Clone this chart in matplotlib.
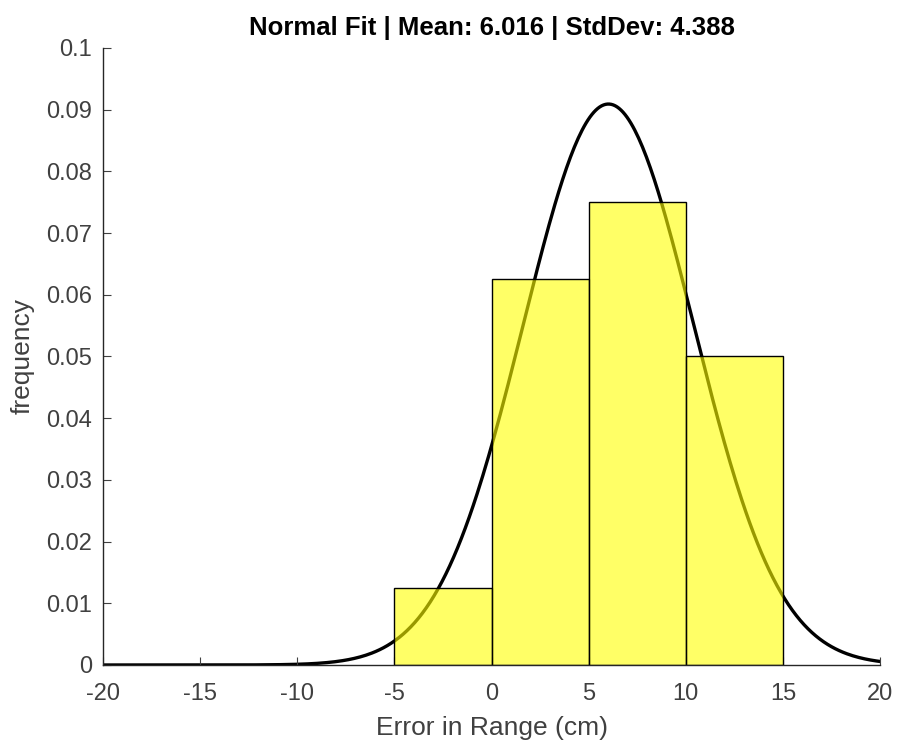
import numpy as np
import matplotlib
matplotlib.use('Agg')
import matplotlib.pyplot as plt

plt.rcParams['font.family'] = ['Liberation Sans', 'DejaVu Sans']
plt.rcParams['axes.unicode_minus'] = False

# histogram bins (cm) and normalised frequencies
bin_edges = [-5, 0, 5, 10, 15]
freqs = [0.0125, 0.0625, 0.075, 0.05]
mu = 6.016
sigma = 4.388

x_ticks = [-20, -15, -10, -5, 0, 5, 10, 15, 20]
y_ticks = [0, 0.01, 0.02, 0.03, 0.04, 0.05, 0.06, 0.07, 0.08, 0.09, 0.1]
y_labels = ['0', '0.01', '0.02', '0.03', '0.04', '0.05', '0.06', '0.07', '0.08', '0.09', '0.1']

fig = plt.figure(figsize=(8.99, 7.44), dpi=100)
ax = fig.add_axes([0.1146, 0.1062, 0.979 - 0.1146, 0.9355 - 0.1062])

# normal fit curve
xs = np.linspace(-20, 20, 400)
pdf = np.exp(-0.5 * ((xs - mu) / sigma) ** 2) / (sigma * np.sqrt(2 * np.pi))
ax.plot(xs, pdf, color='black', lw=2.4, zorder=1)

widths = np.diff(bin_edges)
ax.bar(bin_edges[:-1], freqs, width=widths, align='edge',
       facecolor=(1, 1, 0, 0.6), edgecolor='black', lw=1.0, zorder=2)

ax.set_xlim(-20, 20)
ax.set_ylim(0, 0.1)
ax.set_xticks(x_ticks)
ax.set_yticks(y_ticks)
ax.set_yticklabels(y_labels)
ax.spines['top'].set_visible(False)
ax.spines['right'].set_visible(False)
for s in ['left', 'bottom']:
    ax.spines[s].set_color('#262626')
    ax.spines[s].set_linewidth(1.0)
ax.tick_params(direction='in', length=6, labelsize=17, colors='#404040')
ax.tick_params(axis='x', pad=13)
ax.tick_params(axis='y', pad=8)

ax.set_xlabel('Error in Range (cm)', fontsize=19, color='#404040', labelpad=8)
ax.set_ylabel('frequency', fontsize=19, color='#404040', labelpad=8)
ax.set_title('Normal Fit | Mean: 6.016 | StdDev: 4.388', fontsize=18.5,
             fontweight='bold', pad=9)

fig.savefig('out.png', dpi=100)
